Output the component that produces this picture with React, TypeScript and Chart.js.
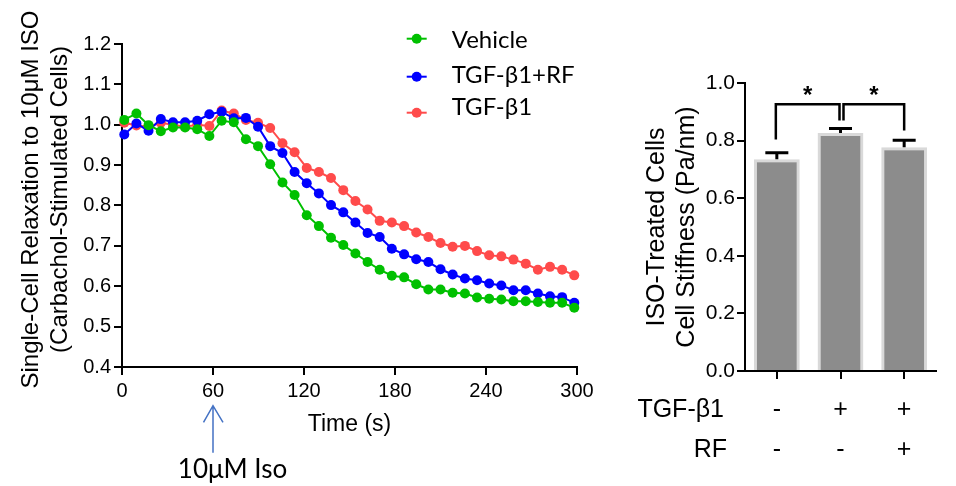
import React, { useEffect, useRef } from 'react';
import { Chart, registerables } from 'chart.js';

Chart.register(...registerables);

const AXIS_FONT = "'Liberation Sans', Arial, Helvetica, sans-serif";
const NOTE_FONT = "Lato, 'Open Sans', sans-serif";

// ---------- Left chart data ----------
const timeSec = [
  1.5, 9.5, 17.5, 25.6, 33.6, 41.6, 49.6, 57.6, 65.7, 73.7, 81.7, 89.7, 97.7,
  105.8, 113.8, 121.8, 129.8, 137.8, 145.9, 153.9, 161.9, 169.9, 177.9, 186.0,
  194.0, 202.0, 210.0, 218.0, 226.1, 234.1, 242.1, 250.1, 258.1, 266.2, 274.2,
  282.2, 290.2, 298.2,
];
const vehicle = [
  1.012, 1.028, 0.999, 0.984, 0.993, 0.993, 0.989, 0.972, 1.01, 1.006, 0.964,
  0.947, 0.902, 0.857, 0.826, 0.776, 0.749, 0.72, 0.702, 0.681, 0.66, 0.641,
  0.626, 0.622, 0.605, 0.592, 0.592, 0.584, 0.582, 0.572, 0.569, 0.567, 0.563,
  0.563, 0.561, 0.559, 0.559, 0.547,
];
const tgfRf = [
  0.976, 1.003, 0.985, 1.014, 1.006, 1.006, 1.01, 1.026, 1.032, 1.016, 1.017,
  0.995, 0.947, 0.93, 0.883, 0.855, 0.83, 0.801, 0.783, 0.758, 0.732, 0.722,
  0.693, 0.679, 0.667, 0.66, 0.642, 0.629, 0.619, 0.615, 0.607, 0.602, 0.59,
  0.59, 0.582, 0.575, 0.573, 0.559,
];
const tgf = [
  1.005, 0.998, 0.995, 1.005, 1.0, 0.995, 1.0, 0.997, 1.035, 1.028, 1.012,
  1.005, 0.992, 0.954, 0.932, 0.893, 0.883, 0.868, 0.838, 0.811, 0.79, 0.762,
  0.758, 0.749, 0.733, 0.722, 0.707, 0.698, 0.7, 0.687, 0.677, 0.674, 0.666,
  0.656, 0.641, 0.648, 0.641, 0.627,
];
const seriesLabels = ['Vehicle', 'TGF-β1+RF', 'TGF-β1'];
const seriesColors = ['#00c000', '#0000ff', '#ff4b4b'];
const leftYTitle = ['Single-Cell Relaxation to 10μM ISO', '(Carbachol-Stimulated Cells)'];
const leftXTitle = 'Time (s)';
const isoTime = 60;
const isoLabel = '10μM Iso';

// ---------- Right chart data ----------
const barGroups = ['Vehicle', 'TGF-β1', 'TGF-β1+RF'];
const stiffness = [0.735, 0.826, 0.777];
const stiffnessErr = [0.023, 0.016, 0.024];
const tgfRow = ['-', '+', '+'];
const rfRow = ['-', '-', '+'];
const rowNames = ['TGF-β1', 'RF'];
const rightYTitle = ['ISO-Treated Cells', 'Cell Stiffness (Pa/nm)'];
const sigPairs = [
  [0, 1],
  [1, 2],
];
const sigLegEnds = [
  [0.804, 0.87],
  [0.87, 0.835],
];
const sigLevel = 0.926;
const sigMark = '*';

function LeftChart() {
  const ref = useRef<HTMLCanvasElement>(null);
  useEffect(() => {
    const canvas = ref.current!;
    const decor = {
      id: 'leftDecor',
      afterDraw(chart: any) {
        const c = chart.ctx;
        const xs = chart.scales.x;
        const area = chart.chartArea;
        c.save();
        // y-axis title (drawn without width compression)
        c.fillStyle = '#000';
        c.font = `24px ${AXIS_FONT}`;
        c.textAlign = 'center';
        c.textBaseline = 'middle';
        const midY = (area.top + area.bottom) / 2 - 6;
        const titleX = [31, 60];
        leftYTitle.forEach((line, k) => {
          c.save();
          c.translate(titleX[k], midY);
          c.rotate(-Math.PI / 2);
          c.fillText(line, 0, 0);
          c.restore();
        });
        // legend
        const markerY = [38.7, 76.7, 112.7];
        const textY = [48.3, 82.7, 115];
        chart.data.datasets.forEach((ds: any, i: number) => {
          c.strokeStyle = ds.borderColor;
          c.lineWidth = 2;
          c.beginPath();
          c.moveTo(406.7, markerY[i]);
          c.lineTo(426.7, markerY[i]);
          c.stroke();
          c.fillStyle = ds.borderColor;
          c.beginPath();
          c.arc(416.7, markerY[i], 5, 0, Math.PI * 2);
          c.fill();
          c.fillStyle = '#000';
          c.font = `24px ${NOTE_FONT}`;
          c.textAlign = 'left';
          c.textBaseline = 'alphabetic';
          c.fillText(ds.label, 451.7, textY[i]);
        });
        // stimulus arrow
        const ax = xs.getPixelForValue(isoTime);
        c.strokeStyle = '#4472c4';
        c.lineWidth = 1.5;
        c.beginPath();
        c.moveTo(ax, 452.7);
        c.lineTo(ax, 405.7);
        c.moveTo(ax - 9.5, 422.3);
        c.lineTo(ax, 405.7);
        c.lineTo(ax + 10, 422.3);
        c.stroke();
        c.fillStyle = '#000';
        c.font = `26px ${NOTE_FONT}`;
        c.textAlign = 'center';
        c.textBaseline = 'alphabetic';
        c.fillText(isoLabel, ax + 19.5, 478);
        c.restore();
      },
    };
    const series = [vehicle, tgfRf, tgf];
    const chart = new Chart(canvas, {
      type: 'line',
      data: {
        datasets: series.map((vals, k) => ({
          label: seriesLabels[k],
          data: timeSec.map((t, i) => ({ x: t, y: vals[i] })),
          borderColor: seriesColors[k],
          backgroundColor: seriesColors[k],
          pointBackgroundColor: seriesColors[k],
          pointBorderColor: seriesColors[k],
          pointRadius: 5,
          pointBorderWidth: 0,
          borderWidth: 2,
          tension: 0,
          clip: false as any,
        })),
      },
      options: {
        responsive: false,
        animation: false,
        events: [],
        layout: { padding: { left: 0, top: 44, right: 23, bottom: 0 } },
        plugins: { legend: { display: false }, tooltip: { enabled: false } },
        scales: {
          x: {
            type: 'linear',
            min: 0,
            max: 300,
            afterFit: (s: any) => {
              s.height = 119;
            },
            ticks: {
              stepSize: 60,
              color: '#000',
              padding: 4,
              font: { family: AXIS_FONT, size: 20 },
            },
            grid: { drawOnChartArea: false, drawTicks: true, tickLength: 8, color: '#000', lineWidth: 2 },
            border: { display: true, color: '#000', width: 2 },
            title: {
              display: true,
              text: leftXTitle,
              color: '#000',
              font: { family: AXIS_FONT, size: 23, lineHeight: 1.2 },
              padding: { top: 0, bottom: 48 },
            },
          },
          y: {
            min: 0.4,
            max: 1.2,
            afterFit: (s: any) => {
              s.width = 122;
            },
            ticks: {
              stepSize: 0.1,
              color: '#000',
              padding: 3,
              font: { family: AXIS_FONT, size: 20 },
              callback: (v: any) => Number(v).toFixed(1),
            },
            grid: { drawOnChartArea: false, drawTicks: true, tickLength: 8, color: '#000', lineWidth: 2 },
            border: { display: true, color: '#000', width: 2 },
            title: { display: false },
          },
        },
      },
      plugins: [decor],
    });
    return () => chart.destroy();
  }, []);
  return (
    <canvas
      ref={ref}
      width={600}
      height={486}
      style={{ position: 'absolute', left: 0, top: 0, width: 600, height: 486 }}
    />
  );
}

function RightChart() {
  const ref = useRef<HTMLCanvasElement>(null);
  useEffect(() => {
    const canvas = ref.current!;
    const decor = {
      id: 'rightDecor',
      afterDatasetsDraw(chart: any) {
        const c = chart.ctx;
        const xs = chart.scales.x;
        const ys = chart.scales.y;
        c.save();
        c.strokeStyle = '#000';
        c.lineCap = 'butt';
        // error bars
        stiffness.forEach((v, i) => {
          const x = xs.getPixelForValue(i);
          const y0 = ys.getPixelForValue(v);
          const y1 = ys.getPixelForValue(v + stiffnessErr[i]);
          c.lineWidth = 3;
          c.beginPath();
          c.moveTo(x, y0);
          c.lineTo(x, y1);
          c.moveTo(x - 11.5, y1);
          c.lineTo(x + 11.5, y1);
          c.stroke();
        });
        // significance brackets
        const legShift = [
          [-1, -1],
          [3, 0],
        ];
        sigPairs.forEach((pair, k) => {
          const xa = xs.getPixelForValue(pair[0]) + legShift[k][0];
          const xb = xs.getPixelForValue(pair[1]) + legShift[k][1];
          const yl = ys.getPixelForValue(sigLevel);
          c.lineWidth = 2.5;
          c.beginPath();
          c.moveTo(xa, ys.getPixelForValue(sigLegEnds[k][0]));
          c.lineTo(xa, yl);
          c.lineTo(xb, yl);
          c.lineTo(xb, ys.getPixelForValue(sigLegEnds[k][1]));
          c.stroke();
          c.fillStyle = '#000';
          c.font = `bold 24px ${AXIS_FONT}`;
          c.textAlign = 'center';
          c.textBaseline = 'alphabetic';
          c.fillText(sigMark, (xa + xb) / 2, yl - 1);
        });
        c.restore();
      },
      afterDraw(chart: any) {
        const c = chart.ctx;
        const left = chart.chartArea.left;
        c.save();
        c.fillStyle = '#000';
        c.font = `25px ${AXIS_FONT}`;
        c.textAlign = 'right';
        c.textBaseline = 'middle';
        c.fillText(rowNames[0], left - 21, 410);
        c.fillText(rowNames[1], left - 18, 450);
        c.restore();
      },
    };
    const chart = new Chart(canvas, {
      type: 'bar',
      data: {
        labels: barGroups,
        datasets: [
          {
            label: 'Stiffness',
            data: stiffness,
            backgroundColor: '#8c8c8c',
            borderColor: '#d9d9d9',
            borderWidth: 3,
            barPercentage: 0.72,
            categoryPercentage: 1,
          },
        ],
      },
      options: {
        responsive: false,
        animation: false,
        events: [],
        layout: { padding: { left: 0, top: 83, right: 20, bottom: 0 } },
        plugins: { legend: { display: false }, tooltip: { enabled: false } },
        scales: {
          x: {
            afterFit: (s: any) => {
              s.height = 115;
            },
            ticks: {
              color: '#000',
              padding: 11,
              font: { family: AXIS_FONT, size: 25, lineHeight: 1.6 },
              callback: (_v: any, i: number) => [tgfRow[i], rfRow[i]],
            },
            grid: { offset: false, drawOnChartArea: false, drawTicks: true, tickLength: 8, color: '#000', lineWidth: 2 },
            border: { display: true, color: '#000', width: 2 },
          },
          y: {
            min: 0,
            max: 1,
            afterFit: (s: any) => {
              s.width = 145;
            },
            ticks: {
              stepSize: 0.2,
              color: '#000',
              padding: 2,
              font: { family: AXIS_FONT, size: 21 },
              callback: (v: any) => Number(v).toFixed(1),
            },
            grid: { drawOnChartArea: false, drawTicks: true, tickLength: 8, color: '#000', lineWidth: 2 },
            border: { display: true, color: '#000', width: 2 },
            title: {
              display: true,
              text: rightYTitle,
              color: '#000',
              font: { family: AXIS_FONT, size: 25, lineHeight: 1.2 },
              padding: { top: 42, bottom: 0 },
            },
          },
        },
      },
      plugins: [decor],
    });
    return () => chart.destroy();
  }, []);
  return (
    <canvas
      ref={ref}
      width={356}
      height={486}
      style={{ position: 'absolute', left: 600, top: 0, width: 356, height: 486 }}
    />
  );
}

export default function App() {
  return (
    <div
      style={{
        position: 'absolute',
        left: 0,
        top: 0,
        width: 956,
        height: 486,
        background: '#fff',
        overflow: 'hidden',
      }}
    >
      <LeftChart />
      <RightChart />
    </div>
  );
}
